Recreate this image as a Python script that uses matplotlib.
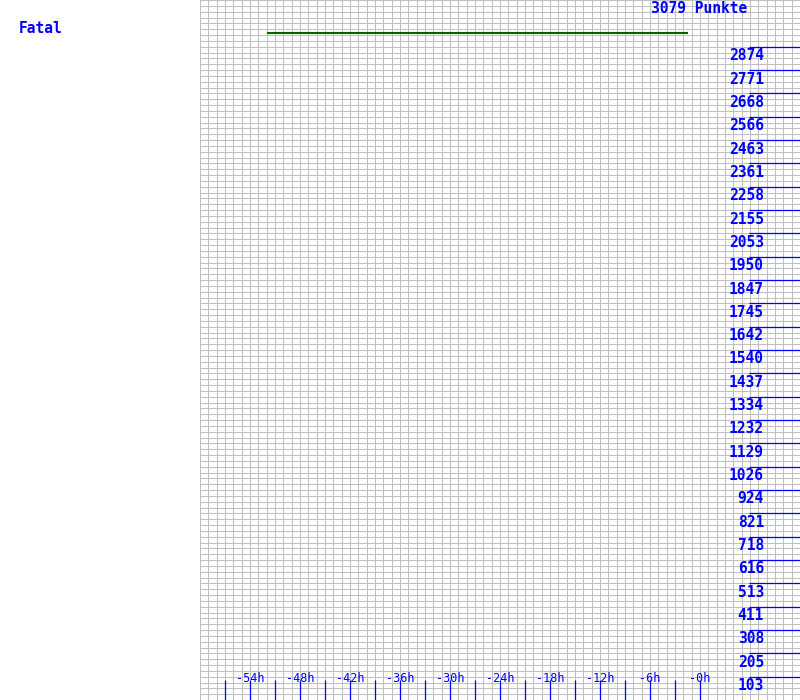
#!/usr/bin/env python3
"""Score history chart: 'Fatal' with 3079 Punkte."""

import numpy as np
import matplotlib.pyplot as plt

player = "Fatal"
score_label = "3079 Punkte"
y_max = 3079

# green score line (hours relative to now, points)
line_hours = [-52, -1.5]
line_points = [2934, 2934]

# y tick labels as shown in the chart
y_ticks = [103, 205, 308, 411, 513, 616, 718, 821, 924, 1026, 1129, 1232,
           1334, 1437, 1540, 1642, 1745, 1847, 1950, 2053, 2155, 2258, 2361,
           2463, 2566, 2668, 2771, 2874]
# x ticks (hours)
x_minor = list(range(-57, 1, 3))
x_labels = [-54, -48, -42, -36, -30, -24, -18, -12, -6, 0]

blue = "#0000ff"
grid_col = "#c0c0c0"
font = "DejaVu Sans Mono"

fig = plt.figure(figsize=(8, 7), dpi=100)
ax = fig.add_axes([0.25, 0, 0.75, 1])
ax.set_xlim(-60, 12)
ax.set_ylim(0, y_max)

# background grid: 1h columns, quarter-tick rows
ax.set_xticks(np.arange(-60, 13, 1))
ax.set_yticks(np.arange(0, 121) * y_max / 120)
ax.grid(True, color=grid_col, lw=0.75)
ax.tick_params(length=0, labelleft=False, labelbottom=False)
for s in ax.spines.values():
    s.set_visible(False)

ax.plot(line_hours, line_points, color="#006400", lw=1.5, zorder=3,
        solid_capstyle="butt")

# y ticks on the right
ax.hlines(y_ticks, 0.915, 1.0, transform=ax.get_yaxis_transform(),
          color=blue, lw=0.9, zorder=3)
for v in y_ticks:
    ax.annotate(str(v), xy=(0.94, v), xycoords=ax.get_yaxis_transform(),
                xytext=(0, -1.5), textcoords="offset pixels",
                ha="right", va="top", color=blue, fontsize=10.5,
                family=font, fontweight="bold")

# x ticks at the bottom
ax.vlines(x_minor, 0, 20 / 700, transform=ax.get_xaxis_transform(),
          color=blue, lw=0.9, zorder=3)
for h in x_labels:
    ax.text(h, 18 / 700, f"-{abs(h)}h", transform=ax.get_xaxis_transform(),
            ha="center", va="baseline", color=blue, fontsize=8.5, family=font)

fig.text(747 / 800, 1 - 1 / 700, score_label, ha="right", va="top",
         color=blue, fontsize=10.5, family=font, fontweight="bold")
fig.text(19 / 800, 1 - 21 / 700, player, ha="left", va="top",
         color=blue, fontsize=10.5, family=font, fontweight="bold")

fig.savefig("out.png", dpi=100)
